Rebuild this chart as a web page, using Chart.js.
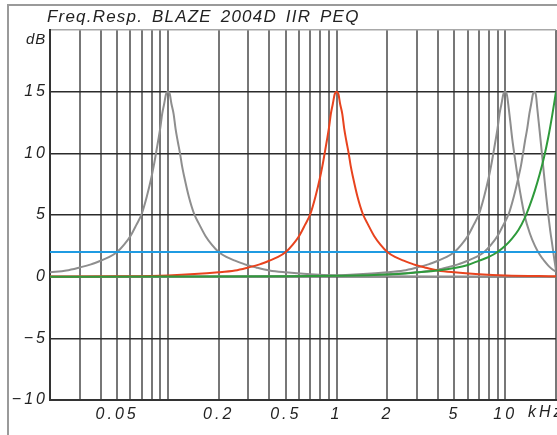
<!DOCTYPE html>
<html>
<head>
<meta charset="utf-8">
<script src="https://cdn.jsdelivr.net/npm/chart.js@4/dist/chart.umd.min.js"></script>
<style>
  html, body { margin: 0; padding: 0; background: #fff; }
  #wrap { position: relative; width: 557px; height: 435px; overflow: hidden; }
  #frame { position: absolute; left: 7px; top: 4px; width: 700px; height: 600px;
           border-top: 2px solid #9a9a9a; border-left: 2px solid #9a9a9a; }
  canvas { position: absolute; left: 0; top: 0; }
  .txt { position: absolute; font-family: 'Liberation Sans', Arial, sans-serif; font-style: italic;
         color: #222; white-space: nowrap; }
  #title { left: 47px; top: 8px; font-size: 17px; line-height: 17px; letter-spacing: 1.2px; word-spacing: 3px; }
  #dB { left: 26px; top: 31px; font-size: 15px; line-height: 15px; letter-spacing: 1px; }
  #kHz { left: 528px; top: 404px; font-size: 16px; line-height: 16px; letter-spacing: 3px; }
</style>
</head>
<body>
<div id="wrap">
  <div id="frame"></div>
  <canvas id="c" width="557" height="435"></canvas>
  <div class="txt" id="title">Freq.Resp. BLAZE 2004D IIR PEQ</div>
  <div class="txt" id="dB">dB</div>
  <div class="txt" id="kHz">kHz</div>
</div>
<script>
// ---- axis ticks ----
const xGridTicks = [0.02,0.03,0.04,0.05,0.06,0.07,0.08,0.09,0.1,0.2,0.3,0.4,0.5,0.6,0.7,0.8,0.9,1,2,3,4,5,6,7,8,9,10,20];
const xLabelValues = [0.05, 0.2, 0.5, 1, 2, 5, 10];
const xLabelTexts = ['0.05', '0.2', '0.5', '1', '2', '5', '10'];
const yMin = -10, yMax = 20, yStep = 5;

// ---- series (frequency in kHz, gain in dB) ----
const gray1Freq = [0.02,0.025,0.03,0.035,0.04,0.045,0.05,0.055,0.06,0.065,0.07,0.075,0.08,0.0825,0.085,0.0875,0.09,0.0925,0.095,0.0975,0.1,0.1026,0.105,0.1081,0.111,0.1143,0.118,0.1212,0.125,0.133,0.143,0.154,0.167,0.182,0.2,0.222,0.25,0.286,0.333,0.4,0.5,0.7,1,2,5,20];
const gray1Gain = [0.35,0.5,0.75,1.0,1.3,1.6,2.0,2.6,3.3,4.2,5.1,6.5,8.1,9.0,10.0,11.0,12.0,13.2,14.0,14.8,15,14.8,14.0,13.2,12.0,11.0,10.0,9.0,8.1,6.5,5.1,4.2,3.3,2.6,2.0,1.6,1.3,1.0,0.75,0.5,0.35,0.2,0.1,0.03,0.01,0];

const redFreq = [0.02,0.05,0.1,0.2,0.25,0.3,0.35,0.4,0.45,0.5,0.55,0.6,0.65,0.7,0.75,0.8,0.825,0.85,0.875,0.9,0.925,0.95,0.975,1,1.026,1.05,1.081,1.11,1.143,1.18,1.212,1.25,1.33,1.43,1.54,1.67,1.82,2,2.22,2.5,2.86,3.33,4,5,7,10,20];
const redGain = [0.01,0.03,0.1,0.35,0.5,0.75,1.0,1.3,1.6,2.0,2.6,3.3,4.2,5.1,6.5,8.1,9.0,10.0,11.0,12.0,13.2,14.0,14.8,15,14.8,14.0,13.2,12.0,11.0,10.0,9.0,8.1,6.5,5.1,4.2,3.3,2.6,2.0,1.6,1.3,1.0,0.75,0.5,0.35,0.2,0.1,0.03];

const gray2Freq = [0.02,0.2,0.5,1,2,2.5,3,3.5,4,4.5,5,5.5,6,6.5,7,7.5,8,8.25,8.5,8.75,9,9.25,9.5,9.75,10,10.25,10.5,10.75,11,11.5,12,12.5,13,14,15,16,17,18,19,20];
const gray2Gain = [0,0.01,0.03,0.1,0.35,0.5,0.75,1.0,1.3,1.6,2.0,2.6,3.3,4.2,5.1,6.5,8.1,9.0,10.0,11.0,12.0,13.2,14.0,14.8,15,14.7,13.6,12.4,11.2,9.3,7.6,6.2,5.0,3.5,2.5,1.8,1.3,0.9,0.6,0.4];

const gray3Freq = [0.02,0.3,0.75,1.5,3,3.75,4.5,5.25,6,6.75,7.5,8.25,9,9.75,10.5,11.25,12,12.4,12.75,13.1,13.5,13.9,14.25,14.6,15,15.25,15.5,16,16.5,17,17.5,18,18.5,19,19.5,20];
const gray3Gain = [0,0.01,0.03,0.1,0.35,0.5,0.75,1.0,1.3,1.6,2.0,2.6,3.3,4.2,5.1,6.5,8.1,9.0,10.0,11.0,12.0,13.2,14.0,14.8,15,14.6,13.6,11.8,10.0,8.2,6.5,5.0,3.7,2.6,1.5,0.5];

const greenFreq = [0.02,0.1,0.5,1,2,3,4,5,6,7,8,9,10,11,12,13,14,15,16,17,18,19,20];
const greenGain = [0,0.01,0.03,0.07,0.18,0.35,0.5,0.7,0.95,1.3,1.6,2.0,2.5,3.1,3.8,4.7,5.8,7.0,8.3,9.7,11.3,13.1,15];

const blueFreq = [0.02, 20];
const blueGain = [2, 2];

const pts = (fs, gs) => fs.map((f, i) => ({ x: f, y: gs[i] }));
const GRAY = '#8e8e8e', RED = '#e8431e', GREEN = '#2e9a3b', BLUE = '#1f9be2';

function ds(fs, gs, color, order) {
  return { data: pts(fs, gs), borderColor: color, borderWidth: 2, pointRadius: 0,
           cubicInterpolationMode: 'monotone', fill: false, order: order };
}

const letterSpacingPlugin = {
  id: 'ls',
  beforeDraw(chart) { chart.ctx.letterSpacing = '3px'; }
};

new Chart(document.getElementById('c'), {
  type: 'line',
  data: {
    datasets: [
      ds(gray1Freq, gray1Gain, GRAY, 5),
      ds(gray2Freq, gray2Gain, GRAY, 5),
      ds(gray3Freq, gray3Gain, GRAY, 5),
      ds(blueFreq, blueGain, BLUE, 3),
      ds(redFreq, redGain, RED, 2),
      ds(greenFreq, greenGain, GREEN, 1)
    ]
  },
  options: {
    responsive: false,
    animation: false,
    devicePixelRatio: 1,
    layout: { padding: { left: 0, right: 1, top: 30, bottom: 0 } },
    plugins: { legend: { display: false }, tooltip: { enabled: false }, title: { display: false } },
    scales: {
      x: {
        type: 'logarithmic',
        min: 0.02, max: 20,
        afterBuildTicks(scale) { scale.ticks = xGridTicks.map(v => ({ value: v })); },
        afterFit(scale) { scale.height = 35; scale.paddingRight = 0; scale.paddingLeft = 0; },
        grid: { color: (ctx) => (ctx.index === 0 ? '#333' : '#777'), lineWidth: 2, drawTicks: false },
        border: { display: true, color: '#333', width: 2 },
        ticks: {
          autoSkip: false, maxRotation: 0, minRotation: 0, padding: 5, color: '#222',
          font: { family: 'Liberation Sans', size: 16, style: 'italic' },
          callback(value) {
            for (let i = 0; i < xLabelValues.length; i++) {
              if (Math.abs(value - xLabelValues[i]) < 1e-9) return xLabelTexts[i];
            }
            return '';
          }
        }
      },
      y: {
        type: 'linear', min: yMin, max: yMax,
        afterFit(scale) { scale.width = 50; scale.paddingTop = 0; scale.paddingBottom = 0; },
        grid: { color: (ctx) => (ctx.tick && ctx.tick.value === yMax ? '#a8a8a8' : '#2b2b2b'), lineWidth: 1.5, drawTicks: false },
        border: { display: true, color: '#333', width: 2 },
        ticks: {
          stepSize: yStep, padding: 2, color: '#222',
          font: { family: 'Liberation Sans', size: 16, style: 'italic' },
          callback(value) {
            if (value === yMax) return '';
            return value < 0 ? '\u2212' + (-value) : String(value);
          }
        }
      }
    }
  },
  plugins: [letterSpacingPlugin]
});
</script>
</body>
</html>
